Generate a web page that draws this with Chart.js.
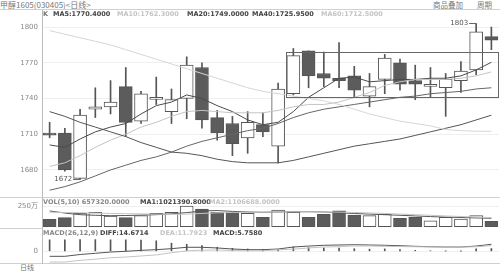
<!DOCTYPE html>
<html>
<head>
<meta charset="utf-8">
<script src="https://cdn.jsdelivr.net/npm/chart.js@4.4.1/dist/chart.umd.min.js"></script>
<style>
  body { margin: 0; background: #fff; }
  #wrap { position: relative; width: 500px; height: 272px; overflow: hidden; background: #fff; font-family: 'DejaVu Sans', 'Noto Sans CJK SC', sans-serif; }
  canvas { position: absolute; left: 0; }
  .t { position: absolute; white-space: nowrap; font-size: 6.5px; line-height: 8px; font-weight: bold; }
  .cjk { font-family: 'Noto Sans CJK SC', sans-serif; font-weight: normal; color: #777; }
  .hl { position: absolute; height: 1px; background: #d0d0d0; }
</style>
</head>
<body>
<div id="wrap">
  <div class="t cjk" style="left:0;top:0;font-size:8px;line-height:9px">甲醇1605(030405)&lt;日线&gt;</div>
  <div class="t cjk" style="left:433px;top:0;font-size:7.5px;line-height:9px;text-decoration:underline">商品叠加</div>
  <div class="t cjk" style="left:477px;top:0;font-size:7.5px;line-height:9px;text-decoration:underline">周期</div>
  <div class="t cjk" style="left:20px;top:263px;font-size:7px;line-height:9px">日线</div>
  <div class="hl" style="left:0;top:9px;width:500px"></div>
  <div class="hl" style="left:0;top:197px;width:500px"></div>
  <div class="hl" style="left:0;top:228px;width:42px"></div>
  <div class="hl" style="left:0;top:263px;width:500px"></div>
  <canvas id="main" width="500" height="187" style="top:10px"></canvas>
  <canvas id="vol" width="500" height="31" style="top:197px"></canvas>
  <canvas id="macd" width="500" height="44" style="top:228px"></canvas>
</div>
<script>
// 日线 K 线数据
const xLabels = ['', '201512', '', '', '', '201601', '', '', '', '', '', '', '', '', '', '', '', '', '', '', '', '', '', '', '', '02', '', '', '', ''];

const opens  = [1711, 1711, 1673, 1731, 1733, 1750, 1721, 1739.3, 1729, 1740, 1766, 1724, 1719, 1707, 1718, 1700, 1744, 1780, 1761, 1757, 1759, 1742, 1756, 1770, 1755, 1750.2, 1749, 1755, 1764, 1792];
const closes = [1709.3, 1680, 1726, 1733, 1737, 1720, 1744, 1741, 1739, 1768, 1722, 1711, 1702, 1720, 1712, 1748, 1776, 1759, 1757, 1755, 1747, 1750, 1774, 1752, 1752, 1751.9, 1756, 1763, 1796, 1789];
const highs  = [1720, 1715, 1731, 1749, 1755, 1766, 1746, 1758, 1748, 1775, 1770, 1730, 1725, 1729, 1728, 1753, 1782, 1780, 1779, 1787, 1767, 1761, 1777, 1773, 1768, 1766, 1761, 1771, 1803, 1800];
const lows   = [1707, 1679, 1672, 1724, 1727, 1708, 1719, 1735, 1719, 1723, 1715, 1705, 1692, 1694, 1708, 1686, 1743, 1749, 1750, 1749, 1741, 1733, 1744, 1747, 1739, 1741, 1725, 1745, 1760, 1781];

const ma5  = [1701, 1699, 1706, 1712, 1716, 1719, 1727, 1734, 1737, 1743, 1740, 1734, 1729, 1722, 1718, 1720, 1729, 1741, 1749, 1757, 1758, 1754, 1755, 1756, 1756, 1757, 1757, 1759, 1764, 1770.4];
const ma10 = [1683, 1686, 1692, 1699, 1705, 1710, 1716, 1720, 1725, 1729, 1730, 1729, 1728, 1728, 1728, 1730, 1733, 1735, 1735, 1737, 1741, 1745, 1751, 1754, 1756, 1756, 1756, 1757, 1759, 1762.3];
const ma20 = [1663, 1666, 1670, 1675, 1680, 1684, 1688, 1691, 1695, 1700, 1704, 1707, 1710, 1713, 1715, 1719, 1724, 1728, 1731, 1733, 1735, 1737, 1739, 1741, 1742, 1744, 1745, 1746, 1748, 1749];
const ma40 = [1729, 1725, 1720, 1716, 1712, 1708, 1703, 1699, 1695, 1694, 1692, 1689, 1687, 1686, 1686, 1686, 1688, 1691, 1694, 1697, 1700, 1702, 1704, 1706, 1709, 1712, 1715, 1718, 1722, 1725.95];
const ma60 = [1797, 1794, 1791, 1788, 1785, 1781, 1777, 1773, 1769, 1765, 1761, 1757, 1753, 1749, 1746, 1744, 1742, 1740, 1738, 1735, 1731, 1727, 1724, 1721, 1719, 1717, 1714, 1713, 1712.5, 1712.5];

// 成交量（万手）
const vol    = [89, 109, 162, 174, 129, 109, 133, 162, 174, 250, 214, 174, 174, 162, 114, 202, 174, 114, 150, 193, 141, 133, 150, 101, 114, 72, 114, 93, 133, 65.732];
const volMa1 = [190, 165, 145, 138, 133, 135, 140, 145, 155, 170, 190, 195, 185, 178, 174, 178, 181, 181, 178, 168, 160, 152, 145, 138, 130, 122, 116, 111, 106, 102.13908];
const volMa2 = [175, 172, 168, 164, 160, 158, 155, 152, 150, 152, 160, 168, 172, 175, 176, 178, 180, 180, 178, 176, 172, 166, 160, 152, 145, 138, 130, 123, 116, 110.66880];

// MACD
const macdBar = [24, 24, 24.5, 24.5, 24, 24, 23.5, 22, 17, 14.7, 12, 8.4, 6.3, 4.9, 4.2, 3.5, 9, 8, 7, 7, 5.5, 4.5, 5, 3.5, 2, 1, 0.5, 0.5, 5, 5.758];
const diff = [-10.5, -10.5, -6.7, -4.2, -1.5, 0, 2, 3.4, 5.5, 8.4, 8.4, 7, 4.8, 3.4, 3.4, 4.8, 9, 11, 12.6, 13.2, 13.8, 13.2, 12.6, 11.7, 10.5, 9.6, 9, 9, 11, 14.6714];
const dea  = [-22.5, -22.5, -19, -16.5, -13.5, -12, -9.8, -7.6, -3, 1, 2.4, 2.8, 1.6, 1, 1.3, 3, 4.5, 7, 9, 9.7, 11, 11, 10.5, 10, 9.5, 9.1, 8.8, 8.8, 9.5, 11.7923];

const priceTicks = [1680, 1710, 1740, 1770, 1800];
const volTicks = [250];
const macdTicks = [0];
const boxRange = [1741, 1779];   // 画线框
const boxFrom = 15.5;

const DARK = '#5c5c5c', EDGE = '#555', LIGHT = '#c4c4c4';
const upDown = opens.map((o, i) => closes[i] >= o);
const candleFill = upDown.map(up => up ? '#ffffff' : DARK);
const tickFont = { family: 'DejaVu Sans, Noto Sans CJK SC', size: 7 };
const last = a => a[a.length - 1];

// 图例文字
const wrap = document.getElementById('wrap');
function addText(left, top, text, color) {
    const d = document.createElement('div');
    d.className = 't';
    d.style.left = left + 'px';
    d.style.top = top + 'px';
    d.style.color = color;
    d.textContent = text;
    wrap.appendChild(d);
}
addText(43, 10, 'K', '#777');
addText(53, 10, 'MA5:' + last(ma5).toFixed(4), '#444');
addText(117, 10, 'MA10:' + last(ma10).toFixed(4), LIGHT);
addText(187, 10, 'MA20:' + last(ma20).toFixed(4), '#444');
addText(252, 10, 'MA40:' + last(ma40).toFixed(4), '#444');
addText(321, 10, 'MA60:' + last(ma60).toFixed(4), LIGHT);
addText(43, 198, 'VOL(5,10) ' + (last(vol) * 10000).toFixed(4), '#888');
addText(140, 198, 'MA1:' + (last(volMa1) * 10000).toFixed(4), '#444');
addText(209, 198, 'MA2:' + (last(volMa2) * 10000).toFixed(4), LIGHT);
addText(43, 229, 'MACD(26,12,9)', '#888');
addText(100, 229, 'DIFF:' + last(diff).toFixed(4), '#444');
addText(160, 229, 'DEA:' + last(dea).toFixed(4), LIGHT);
addText(213, 229, 'MACD:' + last(macdBar).toFixed(4), '#444');

function yAxis(min, max, ticks, fmt) {
    return {
        min: min, max: max,
        afterFit: s => { s.width = 42; s.paddingTop = 0; s.paddingBottom = 0; },
        afterBuildTicks: s => { s.ticks = ticks.map(v => ({ value: v })); },
        ticks: { color: '#888', font: tickFont, padding: 4, callback: fmt },
        grid: { color: '#efefef', drawTicks: false },
        border: { color: '#bbb' }
    };
}

function lineSet(data, color, order) {
    return { type: 'line', data: data, borderColor: color, borderWidth: 1, pointRadius: 0, tension: 0, order: order || 0 };
}

const base = {
    responsive: false,
    animation: false,
    events: [],
    layout: { padding: { left: 0, right: 1, top: 0, bottom: 0 } },
    plugins: { legend: { display: false }, tooltip: { enabled: false } }
};

// 最高最低标注、画线框
const marks = {
    id: 'marks',
    afterDatasetsDraw(chart) {
        const { ctx, chartArea } = chart;
        const x = chart.scales.x, y = chart.scales.y;
        ctx.save();
        ctx.strokeStyle = '#666';
        ctx.lineWidth = 1;
        const bx = Math.round(x.getPixelForValue(boxFrom)) + 0.5;
        const bt = Math.round(y.getPixelForValue(boxRange[1])) + 0.5;
        const bb = Math.round(y.getPixelForValue(boxRange[0])) + 0.5;
        ctx.strokeRect(bx, bt, Math.round(chartArea.right) - 0.5 - bx, bb - bt);

        ctx.font = '7px DejaVu Sans';
        ctx.fillStyle = '#555';
        ctx.textAlign = 'right';
        ctx.textBaseline = 'middle';
        const hi = highs.indexOf(Math.max(...highs));
        const lo = lows.indexOf(Math.min(...lows));
        [[hi, highs[hi]], [lo, lows[lo]]].forEach(([i, v]) => {
            const px = x.getPixelForValue(i), py = Math.round(y.getPixelForValue(v)) + 0.5;
            ctx.beginPath();
            ctx.moveTo(px - 7, py);
            ctx.lineTo(px, py);
            ctx.stroke();
            ctx.fillText(String(v), px - 8, py);
        });
        ctx.restore();
    }
};

new Chart(document.getElementById('main'), {
    type: 'bar',
    data: {
        labels: xLabels,
        datasets: [
            lineSet(ma60, '#d6d6d6'),
            lineSet(ma40, '#555'),
            lineSet(ma20, '#666'),
            lineSet(ma10, LIGHT),
            lineSet(ma5, '#4a4a4a'),
            {
                data: opens.map((o, i) => [o, closes[i]]),
                backgroundColor: candleFill, borderColor: EDGE, borderWidth: 1, borderSkipped: false,
                barThickness: 13, grouped: false, order: 1
            },
            {
                data: lows.map((l, i) => [l, highs[i]]),
                backgroundColor: EDGE, borderWidth: 0,
                barThickness: 1, grouped: false, order: 2
            }
        ]
    },
    options: Object.assign({}, base, {
        scales: {
            x: { display: false, offset: true },
            y: yAxis(1657.3, 1814.3, priceTicks)
        }
    }),
    plugins: [marks]
});

new Chart(document.getElementById('vol'), {
    type: 'bar',
    data: {
        labels: xLabels,
        datasets: [
            lineSet(volMa2, LIGHT),
            lineSet(volMa1, '#555'),
            {
                data: vol, backgroundColor: candleFill, borderColor: EDGE, borderWidth: 1, borderSkipped: false,
                barThickness: 13, order: 1
            }
        ]
    },
    options: Object.assign({}, base, {
        scales: {
            x: { display: false, offset: true },
            y: yAxis(-15.7, 358.7, volTicks, v => v + '万')
        }
    })
});

new Chart(document.getElementById('macd'), {
    type: 'bar',
    data: {
        labels: xLabels,
        datasets: [
            lineSet(dea, LIGHT),
            lineSet(diff, '#555'),
            { data: macdBar, backgroundColor: '#555', barThickness: 1, order: 1 }
        ]
    },
    options: Object.assign({}, base, {
        scales: {
            x: {
                offset: true,
                afterFit: s => { s.height = 9; s.paddingLeft = 0; s.paddingRight = 0; },
                ticks: { autoSkip: false, maxRotation: 0, minRotation: 0, padding: 1, color: '#888', font: tickFont },
                grid: { display: false },
                border: { display: false }
            },
            y: yAxis(-24.5, 48.8, macdTicks)
        }
    })
});
</script>
</body>
</html>
